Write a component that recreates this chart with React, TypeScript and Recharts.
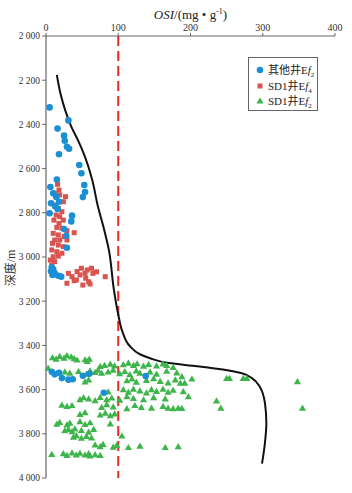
import React from "react";
import { ComposedChart, XAxis, YAxis, Scatter, Line, ReferenceLine } from "recharts";

// OSI (mg/g) vs depth (m)
const X_TICKS = [0, 100, 200, 300, 400];
const DEPTH_TICKS = [2000, 2200, 2400, 2600, 2800, 3000, 3200, 3400, 3600, 3800, 4000];
const THRESHOLD = 100;

const CURVE_OSI = [15, 20, 27, 35, 44, 52, 58, 64, 72, 80, 87, 94, 100, 106, 116, 130, 144, 170, 209, 245, 270, 285, 296, 303, 305, 303, 299];
const CURVE_DEPTH = [2176, 2260, 2340, 2410, 2470, 2530, 2585, 2652, 2773, 2870, 2968, 3149, 3260, 3340, 3403, 3440, 3458, 3480, 3494, 3509, 3525, 3548, 3588, 3660, 3751, 3842, 3935];

// 其他井Ef2
const OTHER_EF2: [number, number][] = [
  [5, 2323], [31, 2382], [16, 2419], [25, 2451], [26, 2474], [29, 2501], [32, 2510], [18, 2535],
  [46, 2584], [49, 2621], [15, 2649], [53, 2674], [6, 2683], [54, 2706], [10, 2712], [51, 2729],
  [14, 2727], [18, 2750], [7, 2757], [13, 2772], [16, 2783], [5, 2802], [36, 2813], [35, 2839],
  [25, 2873], [28, 2904], [29, 2958], [8, 3047], [10, 3056], [7, 3065], [12, 3074], [9, 3081],
  [17, 3085], [21, 3089],
  [8, 3519], [12, 3531], [18, 3524], [22, 3548], [31, 3555], [37, 3553], [51, 3537], [60, 3528],
  [80, 3614], [138, 3539],
];

// SD1井Ef4
const SD1_EF4: [number, number][] = [
  [16, 2671], [18, 2697], [12, 2712], [15, 2730], [19, 2719], [27, 2727], [24, 2750], [12, 2765],
  [17, 2780], [22, 2795], [14, 2810], [19, 2818], [11, 2833], [24, 2833], [18, 2848], [15, 2866],
  [22, 2870], [29, 2881], [10, 2893], [17, 2900], [25, 2908], [12, 2923], [19, 2923], [29, 2923],
  [9, 2938], [17, 2946], [24, 2953], [8, 2968], [15, 2976], [22, 2983], [10, 2999], [17, 2996],
  [6, 3014], [12, 3021], [8, 3036], [39, 2890],
  [31, 3074], [43, 3066], [49, 3051], [57, 3059], [63, 3051], [36, 3089], [47, 3081], [55, 3096],
  [65, 3074], [29, 3119], [39, 3107], [51, 3127], [59, 3112], [61, 3122], [82, 3089], [42, 3104],
  [54, 3074], [70, 3067],
];

// SD1井Ef2
const SD1_EF2: [number, number][] = [
  [9, 3455], [14, 3462], [19, 3450], [25, 3458], [29, 3446], [35, 3452], [39, 3460], [43, 3466], [54, 3465], [57, 3472], [60, 3462],
  [3, 3503], [75, 3495], [81, 3490], [89, 3485], [95, 3493], [107, 3487], [114, 3480], [121, 3490], [126, 3483], [135, 3494], [142, 3486], [153, 3493], [162, 3484], [167, 3490], [176, 3499],
  [26, 3520], [33, 3525], [45, 3518], [56, 3530], [61, 3515], [68, 3522], [72, 3512], [77, 3526], [86, 3520], [93, 3512], [102, 3528], [109, 3518], [116, 3532], [125, 3515], [130, 3525], [144, 3520], [153, 3530], [167, 3516], [181, 3524],
  [54, 3565], [59, 3556], [112, 3560], [119, 3552], [125, 3566], [139, 3558], [149, 3550], [158, 3563], [169, 3570], [179, 3556],
  [86, 3610], [107, 3600], [114, 3612], [121, 3598], [130, 3606], [139, 3615], [146, 3600], [153, 3608], [162, 3598], [169, 3612], [176, 3603],
  [47, 3645], [52, 3636], [59, 3642], [68, 3650], [75, 3635], [84, 3645], [91, 3638], [102, 3648], [112, 3632], [121, 3640], [135, 3646], [149, 3636], [165, 3642],
  [22, 3670], [29, 3676], [36, 3672], [77, 3680], [84, 3668], [93, 3678], [112, 3686], [123, 3672], [132, 3680], [146, 3684], [162, 3676], [169, 3684], [176, 3686], [183, 3684],
  [47, 3712], [54, 3704], [75, 3715], [82, 3706], [89, 3718], [95, 3710],
  [15, 3756], [19, 3748], [29, 3760], [33, 3752], [47, 3745], [54, 3758], [61, 3750], [89, 3755],
  [26, 3786], [31, 3780], [36, 3790], [40, 3778], [49, 3785], [59, 3792], [66, 3780],
  [38, 3815], [42, 3808], [49, 3820], [56, 3812], [63, 3818], [105, 3810],
  [68, 3850], [75, 3858], [79, 3848], [93, 3860], [98, 3852], [114, 3862], [130, 3856], [165, 3862], [183, 3858],
  [8, 3893], [24, 3890], [29, 3898], [36, 3886], [42, 3895], [47, 3888], [54, 3896], [59, 3890], [61, 3900], [68, 3894], [75, 3898],
  [188, 3541], [202, 3552], [186, 3571], [192, 3571], [190, 3609], [197, 3632], [250, 3549], [254, 3549],
  [273, 3549], [278, 3549], [236, 3651], [242, 3684], [188, 3685], [348, 3564], [355, 3684],
];

const BLUE = "#1b8fd6";
const RED = "#d9534f";
const GREEN = "#3db54a";
const FONT = "'Liberation Serif', 'Noto Sans CJK SC', serif";

const toPts = (arr: [number, number][]) => arr.map(([v, d]) => ({ v, d }));
const curve = CURVE_OSI.map((v, i) => ({ v, d: CURVE_DEPTH[i] }));

const fmt = (n: number) => String(n).replace(/\B(?=(\d{3})+(?!\d))/g, " ");

const Circle = (p: any) => <circle cx={p.cx} cy={p.cy} r={3.3} fill={BLUE} />;
const Square = (p: any) => <rect x={p.cx - 2.5} y={p.cy - 2.5} width={5} height={5} fill={RED} />;
const Tri = (p: any) => (
  <polygon
    points={`${p.cx},${p.cy - 3.6} ${p.cx + 3.6},${p.cy + 2.6} ${p.cx - 3.6},${p.cy + 2.6}`}
    fill={GREEN}
  />
);

const LegendRow = ({ marker, label, sub, top }: any) => (
  <div style={{ position: "absolute", left: 6, top, height: 14, display: "flex", alignItems: "center" }}>
    <svg width={10} height={10} style={{ marginRight: 3 }}>{marker}</svg>
    <span style={{ fontFamily: FONT, fontSize: 11, color: "#222", whiteSpace: "nowrap" }}>
      {label}E<i>f</i>
      <sub style={{ fontSize: 7 }}>{sub}</sub>
    </span>
  </div>
);

export default function App() {
  return (
    <div style={{ position: "absolute", left: 0, top: 0, width: 352, height: 493, background: "#fff" }}>
      <ComposedChart width={352} height={493} margin={{ top: 0, right: 17, bottom: 15, left: 0 }}>
        <XAxis
          type="number"
          dataKey="v"
          orientation="top"
          domain={[0, 400]}
          ticks={X_TICKS}
          height={36}
          axisLine={{ stroke: "#666", strokeWidth: 1.2 }}
          tickLine={{ stroke: "#666" }}
          tickSize={3}
          tick={{ fontSize: 10, fill: "#333", fontFamily: FONT }}
          label={(props: any) => {
            const vb = props.viewBox || {};
            const cx = (vb.x ?? 46) + (vb.width ?? 289) / 2;
            return (
              <text x={cx} y={19} textAnchor="middle" fontFamily={FONT} fontSize={13} fill="#222">
                <tspan fontStyle="italic">OSI</tspan>
                <tspan>/(mg • g</tspan>
                <tspan dy={-5} fontSize={8}>-1</tspan>
                <tspan dy={5}>)</tspan>
              </text>
            );
          }}
        />
        <YAxis
          type="number"
          dataKey="d"
          domain={[2000, 4000]}
          reversed
          ticks={DEPTH_TICKS}
          width={46}
          tickFormatter={fmt}
          axisLine={{ stroke: "#666", strokeWidth: 1.2 }}
          tickLine={{ stroke: "#666" }}
          tickSize={4}
          tickMargin={2}
          tick={{ fontSize: 9.5, fill: "#333", fontFamily: FONT }}
          label={() => (
            <text
              x={15}
              y={268}
              transform="rotate(-90 15 268)"
              textAnchor="middle"
              fontFamily={FONT}
              fontSize={12}
              fill="#333"
            >
              深度/m
            </text>
          )}
        />
        <ReferenceLine x={THRESHOLD} stroke="#e52b24" strokeWidth={2} strokeDasharray="10 5" />
        <Scatter data={toPts(SD1_EF2)} shape={Tri} isAnimationActive={false} />
        <Scatter data={toPts(SD1_EF4)} shape={Square} isAnimationActive={false} />
        <Scatter data={toPts(OTHER_EF2)} shape={Circle} isAnimationActive={false} />
        <Line
          data={curve}
          dataKey="d"
          type="monotoneY"
          stroke="#111"
          strokeWidth={2}
          dot={false}
          activeDot={false}
          isAnimationActive={false}
        />
      </ComposedChart>
      <div
        style={{
          position: "absolute",
          left: 248,
          top: 57,
          width: 70,
          height: 54,
          border: "1px solid #666",
          boxSizing: "border-box",
          background: "#fff",
        }}
      >
        <LegendRow top={5} label="其他井" sub="2" marker={<circle cx={5} cy={5} r={3.3} fill={BLUE} />} />
        <LegendRow top={21} label="SD1井" sub="4" marker={<rect x={2.5} y={2.5} width={5} height={5} fill={RED} />} />
        <LegendRow top={36} label="SD1井" sub="2" marker={<polygon points="5,1.4 8.6,7.6 1.4,7.6" fill={GREEN} />} />
      </div>
    </div>
  );
}
